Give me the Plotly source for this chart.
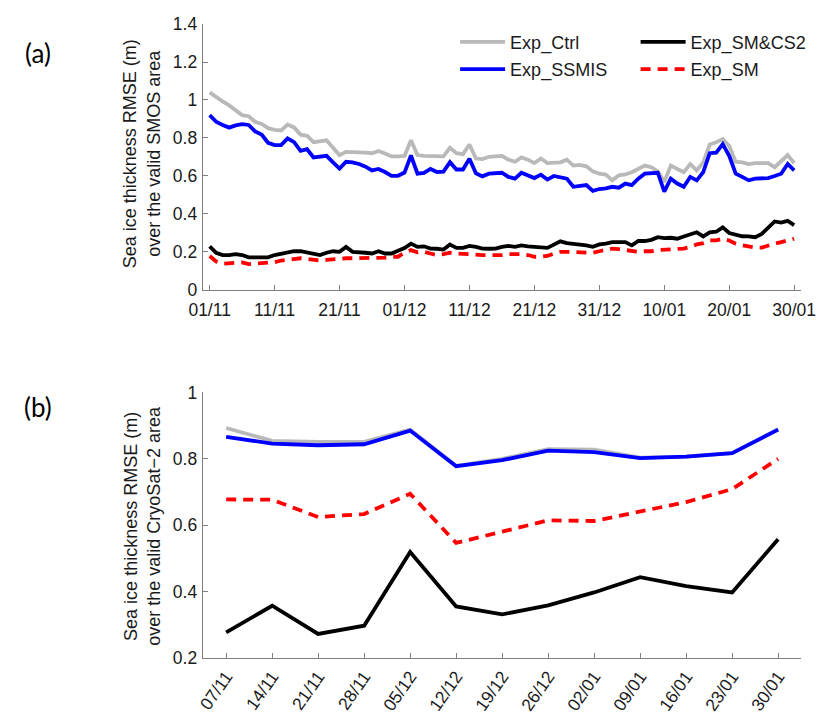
import pandas as pd
import plotly.graph_objects as go

# ---------------- data: panel (a), daily RMSE over valid SMOS area ----------------
start_a = "2014-11-01"
n_days = 91
dates_a = pd.date_range(start_a, periods=n_days, freq="D")

ctrl_a = [1.040, 1.014, 0.992, 0.971, 0.945, 0.920, 0.914, 0.885, 0.873, 0.851,
          0.842, 0.839, 0.870, 0.855, 0.817, 0.811, 0.777, 0.782, 0.787, 0.748,
          0.709, 0.726, 0.726, 0.726, 0.722, 0.719, 0.731, 0.717, 0.702, 0.702,
          0.705, 0.787, 0.709, 0.705, 0.705, 0.702, 0.702, 0.748, 0.719, 0.714,
          0.765, 0.691, 0.688, 0.700, 0.705, 0.705, 0.685, 0.674, 0.697, 0.685,
          0.667, 0.691, 0.667, 0.671, 0.671, 0.685, 0.654, 0.657, 0.650, 0.623,
          0.611, 0.606, 0.576, 0.602, 0.607, 0.619, 0.636, 0.654, 0.645, 0.623,
          0.568, 0.654, 0.636, 0.619, 0.662, 0.628, 0.671, 0.765, 0.777, 0.794,
          0.757, 0.674, 0.671, 0.662, 0.667, 0.667, 0.667, 0.645, 0.679, 0.709,
          0.667]

ssmis_a = [0.920, 0.885, 0.868, 0.854, 0.866, 0.872, 0.868, 0.834, 0.817, 0.774,
           0.762, 0.762, 0.797, 0.777, 0.731, 0.740, 0.697, 0.702, 0.705, 0.671,
           0.638, 0.674, 0.671, 0.662, 0.648, 0.628, 0.636, 0.620, 0.600, 0.600,
           0.617, 0.707, 0.611, 0.615, 0.636, 0.620, 0.622, 0.672, 0.633, 0.633,
           0.690, 0.613, 0.597, 0.611, 0.616, 0.616, 0.594, 0.585, 0.616, 0.602,
           0.588, 0.606, 0.580, 0.599, 0.594, 0.585, 0.542, 0.547, 0.551, 0.520,
           0.530, 0.534, 0.542, 0.537, 0.559, 0.551, 0.585, 0.611, 0.616, 0.616,
           0.516, 0.585, 0.559, 0.542, 0.594, 0.576, 0.619, 0.719, 0.722, 0.767,
           0.705, 0.611, 0.594, 0.576, 0.585, 0.585, 0.588, 0.599, 0.611, 0.662,
           0.628]

smcs2_a = [0.228, 0.194, 0.182, 0.182, 0.187, 0.182, 0.170, 0.170, 0.170, 0.170,
           0.182, 0.190, 0.194, 0.202, 0.202, 0.197, 0.190, 0.182, 0.194, 0.202,
           0.199, 0.225, 0.199, 0.194, 0.194, 0.190, 0.202, 0.190, 0.190, 0.204,
           0.219, 0.242, 0.225, 0.228, 0.216, 0.215, 0.211, 0.237, 0.220, 0.220,
           0.230, 0.225, 0.216, 0.215, 0.216, 0.225, 0.230, 0.225, 0.233, 0.228,
           0.225, 0.225, 0.220, 0.237, 0.254, 0.245, 0.242, 0.238, 0.233, 0.225,
           0.238, 0.242, 0.250, 0.250, 0.250, 0.233, 0.256, 0.256, 0.262, 0.276,
           0.271, 0.273, 0.268, 0.280, 0.293, 0.302, 0.280, 0.302, 0.305, 0.328,
           0.298, 0.290, 0.281, 0.280, 0.276, 0.293, 0.328, 0.359, 0.353, 0.362,
           0.340]

sm_a = [0.177, 0.148, 0.136, 0.139, 0.144, 0.143, 0.134, 0.134, 0.139, 0.142,
        0.144, 0.153, 0.156, 0.160, 0.165, 0.161, 0.156, 0.153, 0.156, 0.160,
        0.160, 0.165, 0.165, 0.165, 0.165, 0.168, 0.170, 0.168, 0.173, 0.173,
        0.194, 0.208, 0.196, 0.199, 0.190, 0.182, 0.187, 0.194, 0.190, 0.187,
        0.187, 0.182, 0.182, 0.182, 0.182, 0.182, 0.187, 0.187, 0.187, 0.182,
        0.173, 0.173, 0.177, 0.190, 0.199, 0.199, 0.199, 0.199, 0.194, 0.194,
        0.202, 0.208, 0.216, 0.213, 0.208, 0.199, 0.199, 0.202, 0.202, 0.208,
        0.211, 0.211, 0.216, 0.216, 0.225, 0.238, 0.245, 0.259, 0.259, 0.268,
        0.259, 0.242, 0.233, 0.225, 0.221, 0.221, 0.233, 0.242, 0.250, 0.259,
        0.268]

tick_dates_a = ["2014-11-01", "2014-11-11", "2014-11-21", "2014-12-01", "2014-12-11",
                "2014-12-21", "2014-12-31", "2015-01-10", "2015-01-20", "2015-01-30"]
tick_text_a = ["01/11", "11/11", "21/11", "01/12", "11/12",
               "21/12", "31/12", "10/01", "20/01", "30/01"]
ytick_a = [0, 0.2, 0.4, 0.6, 0.8, 1.0, 1.2, 1.4]

# ---------------- data: panel (b), weekly RMSE over valid CryoSat-2 area ----------------
weeks_b = ["07/11", "14/11", "21/11", "28/11", "05/12", "12/12", "19/12",
           "26/12", "02/01", "09/01", "16/01", "23/01", "30/01"]
ctrl_b = [0.893, 0.854, 0.851, 0.851, 0.888, 0.779, 0.800, 0.829, 0.828, 0.804, 0.807, 0.817, 0.889]
ssmis_b = [0.866, 0.846, 0.841, 0.844, 0.885, 0.778, 0.796, 0.825, 0.820, 0.802, 0.807, 0.817, 0.888]
sm_b = [0.678, 0.677, 0.625, 0.634, 0.695, 0.547, 0.581, 0.615, 0.613, 0.642, 0.670, 0.709, 0.800]
smcs2_b = [0.278, 0.358, 0.273, 0.298, 0.520, 0.356, 0.332, 0.359, 0.398, 0.444, 0.417, 0.398, 0.558]
ytick_b = [0.2, 0.4, 0.6, 0.8, 1.0]

names = ["Exp_Ctrl", "Exp_SSMIS", "Exp_SM", "Exp_SM&CS2"]

# ---------------- styling ----------------
W, H = 834, 722
FONT = "Liberation Sans, Arial, sans-serif"
TXT = "#1a1a1a"
AX = "#7f7f7f"
C_CTRL, C_SSMIS, C_SM, C_SMCS2 = "#b9b9b9", "#0000ff", "#ff0000", "#000000"
LW = 3.8
DASH = "10px,7px"

def px_x(p):
    return p / W

def px_y(p):
    return 1 - p / H

fig = go.Figure()

# panel (a)
fig.add_trace(go.Scatter(x=dates_a, y=ctrl_a, name=names[0], mode="lines",
                         line=dict(color=C_CTRL, width=LW), xaxis="x", yaxis="y",
                         legend="legend", legendgroup="g1", legendrank=1))
fig.add_trace(go.Scatter(x=dates_a, y=ssmis_a, name=names[1], mode="lines",
                         line=dict(color=C_SSMIS, width=LW), xaxis="x", yaxis="y",
                         legend="legend", legendgroup="g2", legendrank=2))
fig.add_trace(go.Scatter(x=dates_a, y=sm_a, name=names[2], mode="lines",
                         line=dict(color=C_SM, width=LW, dash=DASH), xaxis="x", yaxis="y",
                         legend="legend2", legendgroup="g4", legendrank=4))
fig.add_trace(go.Scatter(x=dates_a, y=smcs2_a, name=names[3], mode="lines",
                         line=dict(color=C_SMCS2, width=LW), xaxis="x", yaxis="y",
                         legend="legend2", legendgroup="g3", legendrank=3))

# panel (b)
for yv, col, dash in [(ctrl_b, C_CTRL, "solid"), (ssmis_b, C_SSMIS, "solid"),
                      (sm_b, C_SM, DASH), (smcs2_b, C_SMCS2, "solid")]:
    fig.add_trace(go.Scatter(x=weeks_b, y=yv, mode="lines", showlegend=False,
                             line=dict(color=col, width=LW, dash=dash),
                             xaxis="x2", yaxis="y2"))

xdom = [px_x(195.5), px_x(815)]
axis_common = dict(showline=True, linecolor=AX, linewidth=1, ticks="inside",
                   ticklen=5, tickcolor=AX, tickwidth=1, showgrid=False,
                   zeroline=False, mirror=False,
                   tickfont=dict(family=FONT, size=17.5, color=TXT))

start_ts = pd.Timestamp(start_a)
xr_a = [start_ts + pd.Timedelta(days=-1.07), start_ts + pd.Timedelta(days=91.0)]

fig.update_layout(
    width=W, height=H, autosize=False,
    margin=dict(l=0, r=0, t=0, b=0),
    paper_bgcolor="white", plot_bgcolor="white",
    font=dict(family=FONT, size=18, color=TXT),
    xaxis=dict(domain=xdom, anchor="y", type="date", range=xr_a,
               tickmode="array", tickvals=tick_dates_a, ticktext=tick_text_a,
               ticklabelstandoff=4, **axis_common),
    yaxis=dict(domain=[px_y(287.5), px_y(14.5)], anchor="x", range=[0, 1.4],
               tickmode="array", tickvals=ytick_a, ticklabelstandoff=1, **axis_common),
    xaxis2=dict(domain=xdom, anchor="y2", type="category", range=[-0.51, 12.49],
                tickmode="array", tickvals=weeks_b, ticktext=weeks_b, tickangle=-55,
                **axis_common),
    yaxis2=dict(domain=[px_y(666.7), px_y(393.3)], anchor="x2", range=[0.2, 1.0],
                tickmode="array", tickvals=ytick_b, ticklabelstandoff=1, **axis_common),
    legend=dict(x=px_x(457), y=px_y(14), xanchor="left", yanchor="top",
                bgcolor="rgba(0,0,0,0)", borderwidth=0, tracegroupgap=1,
                font=dict(family=FONT, size=18, color=TXT), itemwidth=45),
    legend2=dict(x=px_x(644), y=px_y(14), xanchor="left", yanchor="top",
                 bgcolor="rgba(0,0,0,0)", borderwidth=0, tracegroupgap=1,
                 font=dict(family=FONT, size=18, color=TXT), itemwidth=45),
    showlegend=True,
)

annotations = [
    dict(text="(a)", x=px_x(25), y=px_y(44), xref="paper", yref="paper",
         showarrow=False, xanchor="center", yanchor="middle",
         font=dict(family="Lato, Carlito, sans-serif", size=26, color="#000")),
    dict(text="(b)", x=px_x(25), y=px_y(408), xref="paper", yref="paper",
         showarrow=False, xanchor="center", yanchor="middle",
         font=dict(family="Lato, Carlito, sans-serif", size=26, color="#000")),
    dict(text="Sea ice thickness RMSE (m)<br>over the valid SMOS area",
         x=px_x(133), y=px_y(148), xref="paper", yref="paper", textangle=-90,
         showarrow=False, xanchor="center", yanchor="middle",
         font=dict(family=FONT, size=18, color=TXT)),
    dict(text="Sea ice thickness RMSE (m)<br>over the valid CryoSat\u22122 area",
         x=px_x(133), y=px_y(530), xref="paper", yref="paper", textangle=-90,
         showarrow=False, xanchor="center", yanchor="middle",
         font=dict(family=FONT, size=18, color=TXT)),
]
fig.update_layout(annotations=annotations)

fig.write_html("out.html")
